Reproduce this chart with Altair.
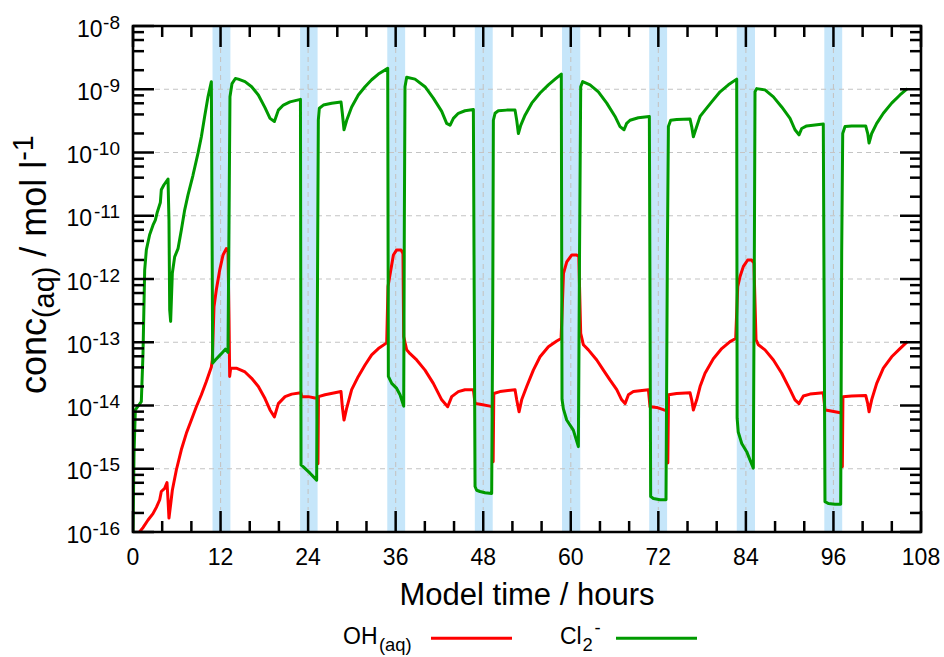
import altair as alt
import pandas as pd

FONT = "Liberation Sans"
W, H = 788, 506          # plot area in px
OX, OY = 133, 26         # plot-area origin inside the 944x657 page

# ---------------- data (hour, log10 conc) ----------------
oh_points = [
    (0.9, -16.0), (1.37, -15.93), (2.06, -15.81), (2.74, -15.71), (3.20, -15.61), (3.66, -15.49),
    (3.88, -15.36), (4.34, -15.31), (4.66, -15.22), (4.80, -15.49), (4.93, -15.78), (5.12, -15.60),
    (5.39, -15.34), (5.94, -15.02), (6.62, -14.70), (7.31, -14.44), (8.00, -14.23), (8.68, -14.02),
    (9.37, -13.83), (10.05, -13.62), (10.74, -13.39), (10.87, -13.28), (11.10, -12.44), (11.42, -12.17),
    (11.88, -11.86), (12.34, -11.62), (12.79, -11.52), (13.02, -11.53), (13.16, -12.65), (13.25, -13.54),
    (13.39, -13.41), (14.16, -13.41), (15.35, -13.47), (16.26, -13.57), (17.18, -13.70), (18.09, -13.89),
    (18.78, -14.07), (19.38, -14.18), (19.92, -13.97), (20.84, -13.86), (21.75, -13.82), (23.0, -13.80),
    (23.12, -13.86), (24.03, -13.86), (24.94, -13.88), (25.25, -13.88), (25.35, -14.92), (25.42, -13.86),
    (26.32, -13.83), (28.51, -13.78), (28.69, -14.02), (28.92, -14.23), (29.29, -14.04), (29.97, -13.75),
    (30.88, -13.54), (31.80, -13.36), (32.71, -13.20), (33.63, -13.10), (34.77, -13.01), (34.95, -12.12),
    (35.33, -11.86), (35.69, -11.62), (36.14, -11.54), (36.74, -11.54), (37.0, -11.60), (37.10, -12.91),
    (37.51, -13.12), (37.97, -13.18), (38.88, -13.28), (40.02, -13.44), (41.16, -13.65), (42.31, -13.91),
    (43.13, -14.02), (43.68, -13.86), (44.59, -13.78), (45.50, -13.75), (46.65, -13.75), (46.88, -13.97),
    (47.56, -13.98), (48.93, -14.01), (49.25, -14.02), (49.36, -14.89), (49.45, -13.81), (50.30, -13.78),
    (52.36, -13.75), (52.59, -13.91), (52.91, -14.10), (53.27, -13.91), (53.96, -13.70), (54.87, -13.44),
    (55.79, -13.23), (56.93, -13.07), (58.08, -12.98), (58.67, -12.94), (58.77, -12.65), (59.0, -11.91),
    (59.45, -11.73), (60.14, -11.62), (60.83, -11.62), (61.1, -11.65), (61.36, -12.86), (61.73, -13.04),
    (62.41, -13.12), (63.56, -13.28), (64.47, -13.44), (65.39, -13.60), (66.30, -13.75), (66.98, -13.91),
    (67.44, -13.97), (67.90, -13.83), (68.58, -13.78), (70.64, -13.75), (70.86, -14.02), (71.77, -14.03),
    (72.78, -14.07), (73.2, -14.08), (73.3, -14.91), (73.4, -13.83), (74.51, -13.81), (76.35, -13.80),
    (76.57, -13.91), (76.80, -14.07), (77.26, -13.91), (77.72, -13.70), (78.40, -13.49), (79.54, -13.26),
    (80.69, -13.10), (81.83, -12.99), (82.60, -12.94), (82.88, -12.12), (83.20, -11.96), (83.66, -11.80),
    (84.25, -11.70), (84.80, -11.70), (85.1, -11.75), (85.39, -12.96), (85.71, -13.04), (86.62, -13.12),
    (87.77, -13.28), (88.91, -13.49), (90.05, -13.75), (90.73, -13.91), (91.28, -13.97), (91.88, -13.85),
    (92.79, -13.82), (94.61, -13.80), (94.84, -14.07), (95.30, -14.08), (96.76, -14.11), (97.15, -14.12),
    (97.22, -14.97), (97.3, -13.86), (98.50, -13.85), (100.42, -13.84), (100.70, -13.97), (100.88, -14.10),
    (101.24, -13.91), (101.93, -13.65), (102.84, -13.41), (103.98, -13.23), (105.12, -13.10), (106.13, -12.99),
]

cl2_points = [
    (0.0, -16.0), (0.14, -14.76), (0.32, -14.07), (1.14, -13.94), (1.37, -13.18), (1.60, -11.86),
    (1.83, -11.54), (2.28, -11.30), (2.74, -11.15), (3.06, -11.07), (3.34, -10.94), (3.75, -10.79),
    (3.88, -10.59), (4.25, -10.51), (4.80, -10.42), (4.93, -11.07), (5.03, -12.49), (5.16, -12.67),
    (5.39, -11.91), (5.71, -11.65), (6.17, -11.52), (6.62, -11.23), (7.08, -10.91), (7.54, -10.67),
    (8.22, -10.36), (8.91, -10.01), (9.37, -9.75), (9.82, -9.43), (10.28, -9.12), (10.74, -8.88),
    (10.92, -13.33), (11.28, -13.28), (12.11, -13.18), (12.66, -13.11), (13.02, -13.16), (13.16, -11.07),
    (13.29, -9.12), (13.57, -8.91), (14.03, -8.83), (14.44, -8.84), (15.35, -8.88), (16.26, -8.96),
    (17.18, -9.09), (18.09, -9.29), (18.78, -9.46), (19.38, -9.51), (19.92, -9.33), (20.61, -9.25),
    (21.52, -9.20), (22.95, -9.16), (23.03, -14.94), (23.35, -14.97), (24.26, -15.07), (25.17, -15.18),
    (25.26, -12.65), (25.40, -9.49), (25.54, -9.30), (26.09, -9.25), (27.23, -9.22), (28.51, -9.20),
    (28.69, -9.38), (28.92, -9.64), (29.29, -9.49), (29.97, -9.28), (30.88, -9.09), (31.80, -8.96),
    (32.71, -8.85), (33.63, -8.76), (34.91, -8.67), (35.00, -13.54), (35.46, -13.65), (36.14, -13.73),
    (36.60, -13.83), (37.10, -14.01), (37.19, -11.07), (37.28, -8.96), (37.51, -8.81), (38.65, -8.84),
    (40.02, -8.96), (41.16, -9.14), (42.31, -9.35), (42.99, -9.54), (43.45, -9.57), (43.91, -9.46),
    (44.59, -9.38), (45.50, -9.34), (46.65, -9.32), (46.88, -15.28), (47.10, -15.34), (47.56, -15.36),
    (48.25, -15.38), (49.16, -15.39), (49.30, -12.65), (49.39, -9.49), (49.62, -9.38), (50.07, -9.34),
    (51.22, -9.33), (52.36, -9.33), (52.59, -9.49), (52.82, -9.70), (53.14, -9.57), (53.73, -9.41),
    (54.65, -9.22), (55.79, -9.06), (56.93, -8.93), (57.85, -8.84), (58.70, -8.76), (58.80, -13.90),
    (58.98, -14.05), (59.44, -14.23), (60.35, -14.39), (61.04, -14.65), (61.20, -11.59), (61.36, -8.96),
    (61.63, -8.88), (62.64, -8.93), (63.78, -9.04), (64.93, -9.22), (66.07, -9.43), (66.75, -9.59),
    (67.30, -9.64), (67.66, -9.54), (68.12, -9.49), (69.26, -9.45), (70.77, -9.43), (70.95, -15.44),
    (71.32, -15.47), (72.23, -15.49), (73.05, -15.49), (73.24, -11.59), (73.38, -9.59), (73.69, -9.49),
    (74.51, -9.48), (76.35, -9.47), (76.57, -9.59), (76.80, -9.75), (77.26, -9.59), (77.72, -9.43),
    (78.40, -9.33), (79.31, -9.20), (80.46, -9.04), (81.60, -8.93), (82.74, -8.84), (82.80, -14.20),
    (82.95, -14.42), (83.43, -14.60), (84.11, -14.73), (84.56, -14.86), (85.02, -14.99), (85.16, -11.59),
    (85.25, -9.04), (85.48, -8.99), (86.62, -9.01), (87.77, -9.12), (88.91, -9.28), (90.05, -9.46),
    (90.73, -9.64), (91.28, -9.72), (91.65, -9.62), (92.33, -9.58), (94.61, -9.55), (94.84, -15.52),
    (95.30, -15.55), (96.21, -15.56), (96.99, -15.56), (97.13, -11.59), (97.27, -9.70), (97.59, -9.59),
    (98.50, -9.58), (100.42, -9.58), (100.70, -9.70), (100.88, -9.85), (101.24, -9.70), (101.93, -9.54),
    (102.84, -9.38), (103.98, -9.22), (105.12, -9.09), (106.13, -8.99),
]

band_start = [10.9, 22.9, 34.85, 46.85, 58.8, 70.75, 82.75, 94.75]
band_end = [13.35, 25.3, 37.3, 49.3, 61.3, 73.2, 85.25, 97.2]

x_major = [0, 12, 24, 36, 48, 60, 72, 84, 96, 108]
x_minor = [4, 8, 16, 20, 28, 32, 40, 44, 52, 56, 64, 68, 76, 80, 88, 92, 100, 104]
x_grid = [12, 24, 36, 48, 60, 72, 84, 96]
y_decades = [-8, -9, -10, -11, -12, -13, -14, -15, -16]
y_grid_decades = [-9, -10, -11, -12, -13, -14, -15]
y_minor_mult = [2, 4, 6, 8]

# ---------------- colours / styles ----------------
RED = "#ff0000"
GREEN = "#009a00"
BAND = "#c6e6fa"
GRIDC = "#c4c4c4"
LW = 3.0


def series_df(points, name):
    return pd.DataFrame({
        "hour": [p[0] for p in points],
        "conc": [10.0 ** p[1] for p in points],
        "idx": list(range(len(points))),
        "series": name,
    })


oh_df = series_df(oh_points, "OH")
cl_df = series_df(cl2_points, "Cl2")
band_df = pd.DataFrame({"start": band_start, "end": band_end})
xmaj_df = pd.DataFrame({"v": x_major, "lab": [str(v) for v in x_major]})
xmin_df = pd.DataFrame({"v": x_minor})
xgrid_df = pd.DataFrame({"v": x_grid})
ymaj_df = pd.DataFrame({"v": [10.0 ** k for k in y_decades], "exp": [str(k) for k in y_decades]})
ymin_df = pd.DataFrame({"v": [m * 10.0 ** k for k in y_decades[1:] for m in y_minor_mult]})
ygrid_df = pd.DataFrame({"v": [10.0 ** k for k in y_grid_decades]})
one = pd.DataFrame({"k": [0]})

xs = alt.Scale(domain=[0, 108], nice=False, zero=False)
ys = alt.Scale(type="log", domain=[1e-16, 1e-8], nice=False)

X = lambda f: alt.X(f, scale=xs, axis=None)
Y = lambda f: alt.Y(f, scale=ys, axis=None)

layers = []

# cloud / band shading
layers.append(alt.Chart(band_df).mark_rect(color=BAND).encode(
    x=X("start:Q"), x2="end:Q", y=alt.value(0), y2=alt.value(H)))

# dashed grid
MAJ, MIN = 21, 11
layers.append(alt.Chart(ygrid_df).mark_rule(color=GRIDC, strokeWidth=1.1, strokeDash=[5, 4]).encode(
    y=Y("v:Q"), x=alt.value(MAJ + 1), x2=alt.value(W - MAJ - 1)))
layers.append(alt.Chart(xgrid_df).mark_rule(color=GRIDC, strokeWidth=1.1, strokeDash=[5, 4]).encode(
    x=X("v:Q"), y=alt.value(MAJ + 1), y2=alt.value(H - MAJ - 1)))

# data lines
for df, col in ((oh_df, RED), (cl_df, GREEN)):
    layers.append(alt.Chart(df).mark_line(color=col, strokeWidth=LW, clip=True, strokeJoin="round").encode(
        x=X("hour:Q"), y=Y("conc:Q"), order="idx:Q"))

# inward ticks
TW = 2.5
for dfx, ln in ((xmaj_df, MAJ), (xmin_df, MIN)):
    layers.append(alt.Chart(dfx).mark_rule(color="black", strokeWidth=TW).encode(
        x=X("v:Q"), y=alt.value(H), y2=alt.value(H - ln)))
    layers.append(alt.Chart(dfx).mark_rule(color="black", strokeWidth=TW).encode(
        x=X("v:Q"), y=alt.value(0), y2=alt.value(ln)))
for dfy, ln in ((ymaj_df, MAJ), (ymin_df, MIN)):
    layers.append(alt.Chart(dfy).mark_rule(color="black", strokeWidth=TW).encode(
        y=Y("v:Q"), x=alt.value(0), x2=alt.value(ln)))
    layers.append(alt.Chart(dfy).mark_rule(color="black", strokeWidth=TW).encode(
        y=Y("v:Q"), x=alt.value(W), x2=alt.value(W - ln)))

# frame
layers.append(alt.Chart(one).mark_rect(fill="transparent", stroke="black", strokeWidth=2.6).encode(
    x=alt.value(0), x2=alt.value(W), y=alt.value(0), y2=alt.value(H)))

# x tick labels
FL = 23
layers.append(alt.Chart(xmaj_df).mark_text(font=FONT, fontSize=FL, align="center", baseline="alphabetic").encode(
    x=X("v:Q"), y=alt.value(565 - OY), text="lab:N"))

# y tick labels: "10" + superscript exponent, right-aligned as a whole
FE = 19
RIGHT = 120 - OX
w1 = FE * (0.333 + 0.556)
w2 = FE * (0.333 + 2 * 0.556)
layers.append(alt.Chart(ymaj_df).transform_filter("length(datum.exp) == 2").mark_text(
    font=FONT, fontSize=FL, align="right", baseline="alphabetic", dy=10.5, text="10").encode(
    y=Y("v:Q"), x=alt.value(RIGHT - w1 - 0.5)))
layers.append(alt.Chart(ymaj_df).transform_filter("length(datum.exp) == 3").mark_text(
    font=FONT, fontSize=FL, align="right", baseline="alphabetic", dy=10.5, text="10").encode(
    y=Y("v:Q"), x=alt.value(RIGHT - w2 - 0.5)))
layers.append(alt.Chart(ymaj_df).mark_text(
    font=FONT, fontSize=FE, align="right", baseline="alphabetic", dy=2.5).encode(
    y=Y("v:Q"), x=alt.value(RIGHT), text="exp:N"))


def txt(s, x_abs, y_abs, size, align="left", angle=0):
    kw = dict(text=s, font=FONT, fontSize=size, align=align, baseline="alphabetic")
    if angle:
        kw["angle"] = angle
    return alt.Chart(one).mark_text(**kw).encode(x=alt.value(x_abs - OX), y=alt.value(y_abs - OY))


# x title
FT = 31
layers.append(txt("Model time / hours", 527, 605, FT, align="center"))

# y title (rotated), pieces with sub/superscripts
FY = 36
FS = 0.8 * FY
bx = 46
y0 = 394
w_conc = FY * (0.5 + 0.556 + 0.556 + 0.5)
w_aq = FS * (0.333 + 0.556 + 0.556 + 0.333)
w_sp = FY * 0.278
w_mol = FY * (0.278 + 0.278 + 0.833 + 0.556 + 0.222 + 0.278 + 0.222)
layers.append(txt("conc", bx, y0, FY, angle=270))
layers.append(txt("(aq)", bx + 8, y0 - w_conc, FS, angle=270))
layers.append(txt("/ mol l", bx, y0 - w_conc - w_aq - w_sp, FY, angle=270))
layers.append(txt("-1", bx - 13, y0 - w_conc - w_aq - w_sp - w_mol, FS, angle=270))

# legend
FLG = 23
layers.append(txt("OH", 343, 644, FLG))
layers.append(txt("(aq)", 379, 651, 0.8 * FLG))
layers.append(txt("Cl", 560, 644, FLG))
layers.append(txt("2", 582.5, 651, 0.8 * FLG))
layers.append(txt("-", 594.5, 634, 0.8 * FLG))
layers.append(alt.Chart(one).mark_rule(color=RED, strokeWidth=LW).encode(
    x=alt.value(431 - OX), x2=alt.value(512 - OX), y=alt.value(638.3 - OY)))
layers.append(alt.Chart(one).mark_rule(color=GREEN, strokeWidth=LW).encode(
    x=alt.value(616 - OX), x2=alt.value(697 - OX), y=alt.value(638.3 - OY)))

chart = alt.layer(*layers).properties(
    width=W, height=H,
    padding={"left": OX, "top": OY, "right": 944 - OX - W, "bottom": 657 - OY - H},
    autosize=alt.AutoSizeParams(type="none"),
    background="white",
).configure_view(strokeWidth=0)

chart.save("out.html", embed_options={"renderer": "svg", "actions": False})
